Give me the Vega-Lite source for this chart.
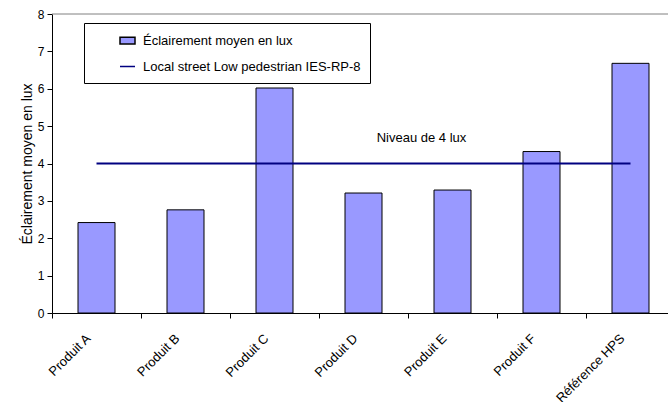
{
  "$schema": "https://vega.github.io/schema/vega-lite/v6.json",
  "width": 616,
  "height": 299,
  "autosize": {"type": "none"},
  "padding": {"left": 52, "top": 14, "right": 0, "bottom": 89},
  "config": {
    "font": "Liberation Sans",
    "view": {"stroke": null},
    "axisY": {"titleFontSize": 14, "titleFontWeight": "normal", "titleColor": "black", "titlePadding": 3, "labelFontSize": 12, "labelColor": "black", "labelPadding": 3, "tickSize": 5, "tickColor": "black", "domainColor": "black", "grid": false}
  },
  "datasets": {
    "mesures": [
      {"produit": "Produit A", "lux": 2.42, "norme": 4},
      {"produit": "Produit B", "lux": 2.76, "norme": 4},
      {"produit": "Produit C", "lux": 6.02, "norme": 4},
      {"produit": "Produit D", "lux": 3.21, "norme": 4},
      {"produit": "Produit E", "lux": 3.29, "norme": 4},
      {"produit": "Produit F", "lux": 4.32, "norme": 4},
      {"produit": "Référence HPS", "lux": 6.68, "norme": 4}
    ],
    "series": [
      {"serie": "Éclairement moyen en lux"},
      {"serie": "Local street Low pedestrian IES-RP-8"}
    ]
  },
  "data": {"name": "mesures"},
  "layer": [
    {
      "data": {"values": [{"v": 8}]},
      "mark": {"type": "rule", "color": "#808080", "strokeWidth": 1},
      "encoding": {"y": {"field": "v", "type": "quantitative", "scale": {"domain": [0, 8]},
          "axis": {"title": "Éclairement moyen en lux", "values": [0, 1, 2, 3, 4, 5, 6, 7, 8]}}}
    },
    {
      "mark": {"type": "bar", "size": 37, "fill": "#9999ff", "stroke": "black", "strokeWidth": 1},
      "encoding": {
        "x": {
          "field": "produit", "type": "nominal",
          "scale": {"domain": ["Produit A", "Produit B", "Produit C", "Produit D", "Produit E", "Produit F", "Référence HPS"], "range": [0, 623], "paddingInner": 0, "paddingOuter": 0},
          "axis": {"title": null, "bandPosition": 0, "labelAngle": -45, "labelAlign": "right", "labelBaseline": "middle", "labelFontSize": 13, "labelColor": "black", "labelPadding": 18, "labelOffset": -8, "tickSize": 5, "tickColor": "black", "domainColor": "black", "grid": false}
        },
        "y": {"field": "lux", "type": "quantitative",
          "axis": {"title": "Éclairement moyen en lux", "values": [0, 1, 2, 3, 4, 5, 6, 7, 8]}}
      }
    },
    {
      "mark": {"type": "line", "strokeWidth": 2, "color": "#000080"},
      "encoding": {
        "x": {"field": "produit", "type": "nominal"},
        "y": {"field": "norme", "type": "quantitative",
          "axis": {"title": "Éclairement moyen en lux", "values": [0, 1, 2, 3, 4, 5, 6, 7, 8]}}
      }
    },
    {
      "data": {"values": [{"produit": "Produit E", "y": 4.68, "texte": "Niveau de 4 lux"}]},
      "mark": {"type": "text", "fontSize": 13, "color": "black", "dx": -31, "baseline": "middle"},
      "encoding": {
        "x": {"field": "produit", "type": "nominal"},
        "y": {"field": "y", "type": "quantitative",
          "axis": {"title": "Éclairement moyen en lux", "values": [0, 1, 2, 3, 4, 5, 6, 7, 8]}},
        "text": {"field": "texte"}
      }
    },
    {
      "data": {"name": "series"},
      "mark": {"type": "point", "filled": true, "opacity": 0},
      "encoding": {
        "fill": {"field": "serie", "type": "nominal",
          "scale": {"domain": ["Éclairement moyen en lux", "Local street Low pedestrian IES-RP-8"], "range": ["#9999ff", "#000080"]},
          "legend": {"orient": "none", "legendX": 32, "legendY": 9, "title": null, "strokeColor": "black", "fillColor": "white", "padding": 9, "symbolOffset": 26, "rowPadding": 10, "labelFontSize": 13, "labelColor": "black", "labelOffset": 7, "labelLimit": 400, "symbolSize": 225, "symbolOpacity": 1, "symbolStrokeWidth": 1.5}},
        "stroke": {"field": "serie", "type": "nominal",
          "scale": {"domain": ["Éclairement moyen en lux", "Local street Low pedestrian IES-RP-8"], "range": ["#000000", "#000080"]},
          "legend": {"orient": "none", "legendX": 32, "legendY": 9, "title": null, "strokeColor": "black", "fillColor": "white", "padding": 9, "symbolOffset": 26, "rowPadding": 10, "labelFontSize": 13, "labelColor": "black", "labelOffset": 7, "labelLimit": 400, "symbolSize": 225, "symbolOpacity": 1, "symbolStrokeWidth": 1.5}},
        "shape": {"field": "serie", "type": "nominal",
          "scale": {"domain": ["Éclairement moyen en lux", "Local street Low pedestrian IES-RP-8"], "range": ["M-1,-0.45H1V0.45H-1Z", "stroke"]},
          "legend": {"orient": "none", "legendX": 32, "legendY": 9, "title": null, "strokeColor": "black", "fillColor": "white", "padding": 9, "symbolOffset": 26, "rowPadding": 10, "labelFontSize": 13, "labelColor": "black", "labelOffset": 7, "labelLimit": 400, "symbolSize": 225, "symbolOpacity": 1, "symbolStrokeWidth": 1.5}}
      }
    }
  ]
}
